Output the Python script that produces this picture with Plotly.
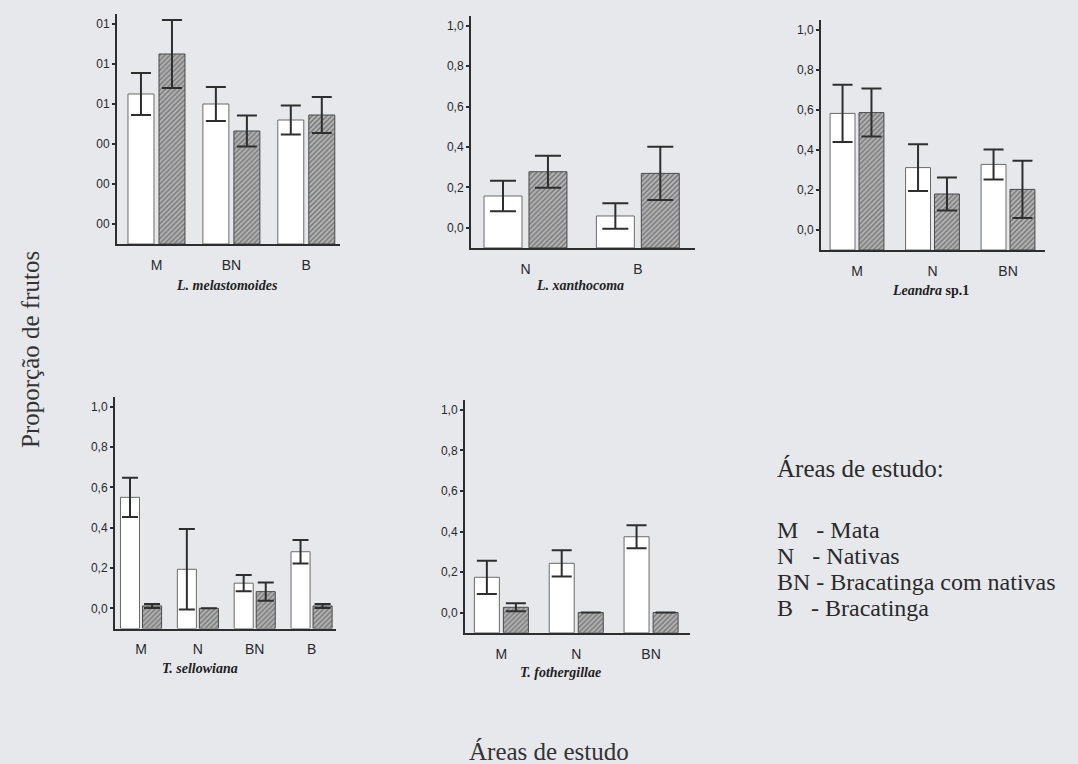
import plotly.graph_objects as go

W, H = 1078, 764
BG = "#e6e8ec"
INK = "#2e2e2e"
YMIN, YMAX = -0.1, 1.05

# ---- data: mean proportion and error for open / hatched bars ----
mel_areas = ["M", "BN", "B"]
mel_open = [0.65, 0.60, 0.52]
mel_open_err = [0.105, 0.085, 0.073]
mel_hatch = [0.85, 0.465, 0.545]
mel_hatch_err = [0.17, 0.077, 0.09]
mel_ticktext = ["00", "00", "00", "01", "01", "01"]

xan_areas = ["N", "B"]
xan_open = [0.157, 0.058]
xan_open_err = [0.075, 0.063]
xan_hatch = [0.277, 0.269]
xan_hatch_err = [0.079, 0.132]

lea_areas = ["M", "N", "BN"]
lea_open = [0.583, 0.312, 0.328]
lea_open_err = [0.143, 0.117, 0.075]
lea_hatch = [0.587, 0.18, 0.203]
lea_hatch_err = [0.12, 0.083, 0.143]

sel_areas = ["M", "N", "BN", "B"]
sel_open = [0.551, 0.194, 0.125, 0.281]
sel_open_err = [0.097, 0.2, 0.04, 0.058]
sel_hatch = [0.012, 0.0, 0.083, 0.012]
sel_hatch_err = [0.01, 0.0, 0.045, 0.01]

fot_areas = ["M", "N", "BN"]
fot_open = [0.174, 0.243, 0.374]
fot_open_err = [0.082, 0.065, 0.057]
fot_hatch = [0.026, 0.0, 0.0]
fot_hatch_err = [0.02, 0.0, 0.0]

std_ticktext = ["0,0", "0,2", "0,4", "0,6", "0,8", "1,0"]
tickvals = [0, 0.2, 0.4, 0.6, 0.8, 1.0]

key_title = "Áreas de estudo:"
key_codes = ["M", "N", "BN", "B"]
key_names = ["Mata", "Nativas", "Bracatinga com nativas", "Bracatinga"]

# panel layout: pixel box (left, right, top, bottom), x range in category units,
# bar width / gap in category units, error cap half-width, caption
panels = [
    dict(areas=mel_areas, o=mel_open, oe=mel_open_err, h=mel_hatch, he=mel_hatch_err,
         tt=mel_ticktext, box=(117, 340, 14, 244), xr=(-0.527, 2.45), w=0.347, g=0.067, cap=10,
         cap_text="<b><i>L. melastomoides</i></b>", cap_xy=(227, 285)),
    dict(areas=xan_areas, o=xan_open, oe=xan_open_err, h=xan_hatch, he=xan_hatch_err,
         tt=std_ticktext, box=(471, 695, 15.6, 247.9), xr=(-0.485, 1.509), w=0.338, g=0.062, cap=13,
         cap_text="<b><i>L. xanthocoma</i></b>", cap_xy=(580, 285)),
    dict(areas=lea_areas, o=lea_open, oe=lea_open_err, h=lea_hatch, he=lea_hatch_err,
         tt=std_ticktext, box=(821, 1045, 20, 250), xr=(-0.477, 2.49), w=0.33, g=0.053, cap=10,
         cap_text="<b><i>Leandra</i> sp.1</b>", cap_xy=(930, 290)),
    dict(areas=sel_areas, o=sel_open, oe=sel_open_err, h=sel_hatch, he=sel_hatch_err,
         tt=std_ticktext, box=(115, 336, 396.8, 628.5), xr=(-0.458, 3.43), w=0.335, g=0.053, cap=8,
         cap_text="<b><i>T. sellowiana</i></b>", cap_xy=(200, 668)),
    dict(areas=fot_areas, o=fot_open, oe=fot_open_err, h=fot_hatch, he=fot_hatch_err,
         tt=std_ticktext, box=(465, 690, 399.8, 632.8), xr=(-0.486, 2.52), w=0.334, g=0.054, cap=10,
         cap_text="<b><i>T. fothergillae</i></b>", cap_xy=(560, 672)),
]

serif = "Liberation Serif, Times New Roman, serif"
sans = "Liberation Sans, Arial, sans-serif"

fig = go.Figure()
layout = {}
annotations = []

for i, p in enumerate(panels, start=1):
    xa = "x" if i == 1 else f"x{i}"
    ya = "y" if i == 1 else f"y{i}"
    w, g = p["w"], p["g"]
    err_style = dict(type="data", visible=True, color=INK, thickness=2, width=p["cap"])

    fig.add_trace(go.Bar(
        x=p["areas"], y=[v - YMIN for v in p["o"]], base=YMIN,
        width=w, offset=-(w + g / 2),
        marker=dict(color="white", line=dict(color="#6a6a6a", width=1)),
        error_y=dict(array=p["oe"], **err_style),
        xaxis=xa, yaxis=ya, showlegend=False, hoverinfo="skip",
    ))
    fig.add_trace(go.Bar(
        x=p["areas"], y=[v - YMIN for v in p["h"]], base=YMIN,
        width=w, offset=g / 2,
        marker=dict(color="#a8a8a8", line=dict(color="#4a4a4a", width=1),
                    pattern=dict(shape="/", fgcolor="#333333", bgcolor="#b4b4b4",
                                 size=3.5, solidity=0.4)),
        error_y=dict(array=p["he"], **err_style),
        xaxis=xa, yaxis=ya, showlegend=False, hoverinfo="skip",
    ))

    l, r, t, b = p["box"]
    xkey = "xaxis" if i == 1 else f"xaxis{i}"
    ykey = "yaxis" if i == 1 else f"yaxis{i}"
    layout[xkey] = dict(
        domain=[l / W, r / W], range=list(p["xr"]), type="category", anchor=ya,
        showline=True, linecolor=INK, linewidth=2, ticks="", showgrid=False,
        zeroline=False, ticklabelstandoff=7,
        tickfont=dict(family=sans, size=14, color="#2a2a2a"),
    )
    layout[ykey] = dict(
        domain=[1 - b / H, 1 - t / H], range=[YMIN, YMAX], anchor=xa,
        tickvals=tickvals, ticktext=p["tt"], ticks="outside", ticklen=3,
        tickwidth=1.5, tickcolor=INK,
        showline=True, linecolor=INK, linewidth=2, showgrid=False, zeroline=False,
        tickfont=dict(family=sans, size=12, color="#2a2a2a"),
    )

    cx, cy = p["cap_xy"]
    annotations.append(dict(
        text=p["cap_text"], x=cx / W, y=1 - cy / H, xref="paper", yref="paper",
        showarrow=False, xanchor="center", yanchor="middle",
        font=dict(family=serif, size=14, color="#222222"),
    ))

annotations.append(dict(
    text="Proporção de frutos", x=31 / W, y=1 - 350 / H, xref="paper", yref="paper",
    showarrow=False, textangle=-90, xanchor="center", yanchor="middle",
    font=dict(family=serif, size=25, color="#333333"),
))
annotations.append(dict(
    text="Áreas de estudo", x=549 / W, y=1 - 751 / H, xref="paper", yref="paper",
    showarrow=False, xanchor="center", yanchor="middle",
    font=dict(family=serif, size=25, color="#333333"),
))

annotations.append(dict(
    text=key_title, x=775 / W, y=1 - 468 / H, xref="paper", yref="paper",
    showarrow=False, xanchor="left", yanchor="middle",
    font=dict(family=serif, size=25, color="#2a2a2a"),
))
for k, (code, name) in enumerate(zip(key_codes, key_names)):
    pad = "\u00a0" if len(code) > 1 else "\u00a0\u00a0\u00a0"
    annotations.append(dict(
        text=f"{code}{pad}- {name}", x=775 / W, y=1 - (530 + 26 * k) / H,
        xref="paper", yref="paper", showarrow=False,
        xanchor="left", yanchor="middle",
        font=dict(family=serif, size=24, color="#2a2a2a"),
    ))

fig.update_layout(
    width=W, height=H, autosize=False,
    margin=dict(l=0, r=0, t=0, b=0),
    paper_bgcolor=BG, plot_bgcolor=BG,
    barmode="overlay",
    annotations=annotations,
    **layout,
)

fig.write_html("out.html")
